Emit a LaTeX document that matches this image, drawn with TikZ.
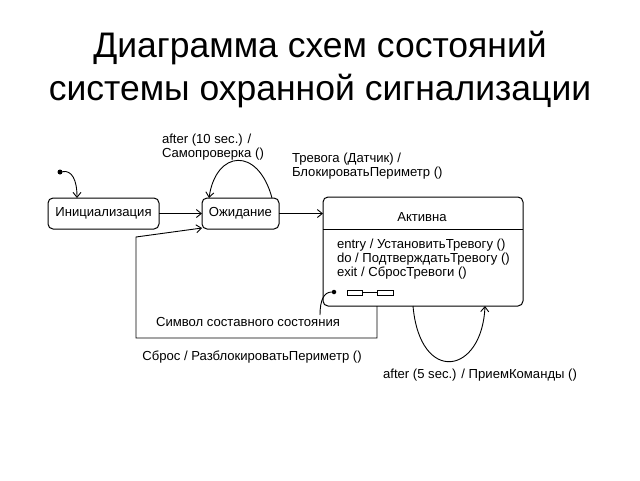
\documentclass[tikz,border=0pt]{standalone}
\usepackage{fontspec}
\setmainfont{Liberation Sans}
\usetikzlibrary{arrows.meta,calc}
\begin{document}
\begin{tikzpicture}[x=1pt,y=-1pt,
  every node/.style={inner sep=0pt,outer sep=0pt},
  txt/.style={font=\fontsize{13.1}{14.2}\selectfont},
  state/.style={draw,line width=1pt,rounded corners=5pt,font=\fontsize{13.1}{14.2}\selectfont},
  conn/.style={line width=0.9pt,-{Straight Barb[length=5pt,width=8pt,line width=0.9pt]}},
  plain/.style={line width=0.9pt},
  title/.style={font=\fontsize{35.5}{43}\selectfont}]
\useasboundingbox (0,0) rectangle (640,480);
\fill[white] (0,0) rectangle (640,480);
% title
\node[title,anchor=base] (t1) at (320,57) {Диаграмма схем состояний};
\node[title,anchor=base] (t2) at (320,100) {системы охранной сигнализации};
% states
\node[state,minimum width=111pt,minimum height=31pt] (init) at (103.5,213.5) {Инициализация};
\node[state,minimum width=77pt,minimum height=31pt] (wait) at (240.5,213.5) {Ожидание};
\node[state,minimum width=200pt,minimum height=109pt] (act) at (423,251.5) {};
\node[txt,anchor=base] (actname) at (422,221) {Активна};
\draw[line width=1pt] ($(act.north west)+(0,-32pt)$) -- ($(act.north east)+(0,-32pt)$);
\node[txt,anchor=north west,align=left] (acts) at (337,239) {entry / УстановитьТревогу ()\\do / ПодтверждатьТревогу ()\\exit / СбросТревоги ()};
% initial
\node[circle,fill,minimum size=5pt] (start) at (60,172) {};
\coordinate (initTop) at (77,198);
\draw[conn] (start) .. controls (72,170) and (77,180) .. (initTop);
% transitions
\draw[conn] (init) -- (wait);
\draw[conn] (wait) -- (act.west |- wait);
\coordinate (wl1) at (272,198);
\coordinate (wl2) at (209,198);
\draw[conn] (wl1) .. controls (258,146) and (216,150) .. (wl2);
\node[txt,anchor=north west,align=left] (l1) at (162,134) {after (10 sec.) /\\Самопроверка ()};
\node[txt,anchor=north west,align=left] (l2) at (292,153) {Тревога (Датчик) /\\БлокироватьПериметр ()};
% return path
\coordinate (r0) at (377,306);
\coordinate (r1) at (377,338);
\coordinate (r2) at (136,338);
\coordinate (r3) at (136,237);
\coordinate (r4) at (202,228);
\draw[conn] (r0) -- (r1) -- (r2) -- (r3) -- (r4);
\node[txt] (l3) at (252,357) {Сброс / РазблокироватьПериметр ()};
% active self loop
\coordinate (al1) at (413,306);
\coordinate (al2) at (485,306);
\draw[conn] (al1) .. controls (420,385) and (482,375) .. (al2);
\node[txt] (l4) at (480,375) {after (5 sec.) / ПриемКоманды ()};
% composite symbol
\node[circle,fill,minimum size=4.5pt] (cdot) at (334,292) {};
\node[draw,line width=0.8pt,minimum width=15pt,minimum height=5pt] (cr1) at (354.5,292.5) {};
\node[draw,line width=0.8pt,minimum width=16pt,minimum height=5pt] (cr2) at (385,292.5) {};
\draw[plain] (cr1) -- (cr2);
\coordinate (cc) at (320,315);
\draw[plain] (cc) .. controls (320,300) and (324,292) .. (cdot);
\node[txt] (l5) at (248,322) {Символ составного состояния};
\end{tikzpicture}
\end{document}
